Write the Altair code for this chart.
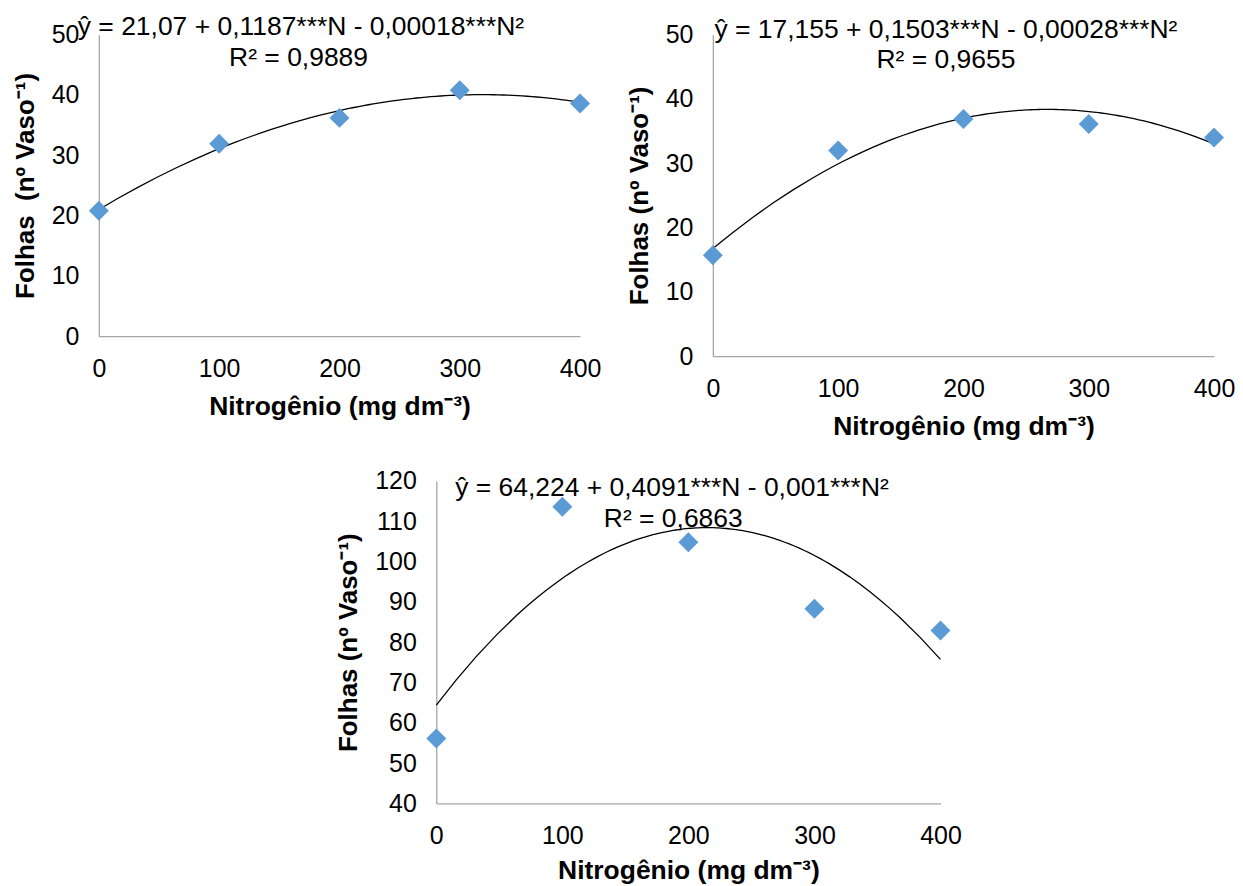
import altair as alt
import pandas as pd

# ---- data ----
N = [0, 100, 200, 300, 400]
folhas_a = [20.8, 31.9, 36.2, 40.8, 38.6]
folhas_b = [15.7, 32.0, 36.9, 36.1, 34.0]
folhas_c = [56.1, 113.6, 104.8, 88.3, 82.9]

x_ticks = [0, 100, 200, 300, 400]
y_ticks_a = [0, 10, 20, 30, 40, 50]
y_ticks_b = [0, 5, 10, 15, 20, 25, 30, 35, 40, 45, 50]
y_ticks_c = [40, 50, 60, 70, 80, 90, 100, 110, 120]

eq_a = "ŷ = 21,07 + 0,1187***N - 0,00018***N²"
r2_a = "R² = 0,9889"
eq_b = "ŷ = 17,155 + 0,1503***N - 0,00028***N²"
r2_b = "R² = 0,9655"
eq_c = "ŷ = 64,224 + 0,4091***N - 0,001***N²"
r2_c = "R² = 0,6863"

x_title = "Nitrogênio (mg dm⁻³)"
y_title_a = "Folhas\u00a0 (nº Vaso⁻¹)"
y_title_b = "Folhas (nº Vaso⁻¹)"

FONT = "Liberation Sans"
BLUE = "#5B9BD5"
one_row = pd.DataFrame({"k": [0]})


def panel(values, yticks, ytitle, eq, r2, eq_pos, r2_pos, w, h, xpad):
    df = pd.DataFrame({"N": N, "v": values})
    ydom = [yticks[0], yticks[-1]]
    xenc = alt.X("N:Q", scale=alt.Scale(domain=[0, 400], nice=False),
                 axis=alt.Axis(values=x_ticks, title=x_title,
                               labelFlush=False, titleFontSize=26.5,
                               titlePadding=xpad))
    yenc = alt.Y("v:Q", scale=alt.Scale(domain=ydom, nice=False, zero=False),
                 axis=alt.Axis(values=yticks, title=ytitle,
                               labelFlush=False, titleFontSize=26,
                               titlePadding=13))
    base = alt.Chart(df)
    pts = base.mark_point(shape="diamond", filled=True, size=400,
                          color=BLUE, opacity=1).encode(x=xenc, y=yenc)
    fit = base.transform_regression(
        "N", "v", method="poly", order=2, extent=[0, 400]
    ).mark_line(color="black", strokeWidth=1.3).encode(x="N:Q", y="v:Q")
    t1 = alt.Chart(one_row).mark_text(text=eq, font=FONT, fontSize=26.5,
                                      color="black", align="center",
                                      baseline="middle").encode(
        x=alt.datum(eq_pos[0]), y=alt.datum(eq_pos[1]))
    t2 = alt.Chart(one_row).mark_text(text=r2, font=FONT, fontSize=26.5,
                                      color="black", align="center",
                                      baseline="middle").encode(
        x=alt.datum(r2_pos[0]), y=alt.datum(r2_pos[1]))
    return alt.layer(fit, pts, t1, t2).properties(width=w, height=h)


p1 = panel(folhas_a, y_ticks_a, y_title_a, eq_a, r2_a,
           (168, 51.2), (166, 46.2), 482, 302, 12)
p2 = panel(folhas_b, y_ticks_b, y_title_b, eq_b, r2_b,
           (186, 50.8), (186, 46.1), 502, 322, 12)
p3 = panel(folhas_c, y_ticks_c, y_title_b, eq_c, r2_c,
           (187, 118.3), (188, 110.6), 505, 323, 9)

spacer = alt.Chart(pd.DataFrame({"a": [0]})).mark_point(opacity=0).encode(
    x=alt.X("a:Q", axis=None), y=alt.Y("a:Q", axis=None)
).properties(width=237, height=10)

top = alt.hconcat(p1, p2, spacing=25)
bottom = alt.hconcat(spacer, p3, spacing=0)
chart = alt.vconcat(top, bottom, spacing=29).properties(
    padding={"left": 4, "top": 5, "right": 0, "bottom": 0}
).configure_view(
    strokeWidth=0
).configure_axis(
    domainColor="#A6A6A6", domainWidth=1.3, ticks=False, grid=False,
    labelFont=FONT, labelFontSize=25, labelColor="black", labelPadding=20,
    titleFont=FONT, titleFontWeight="bold", titleColor="black"
)

chart.save("out.html", embed_options={"renderer": "svg", "actions": False})
